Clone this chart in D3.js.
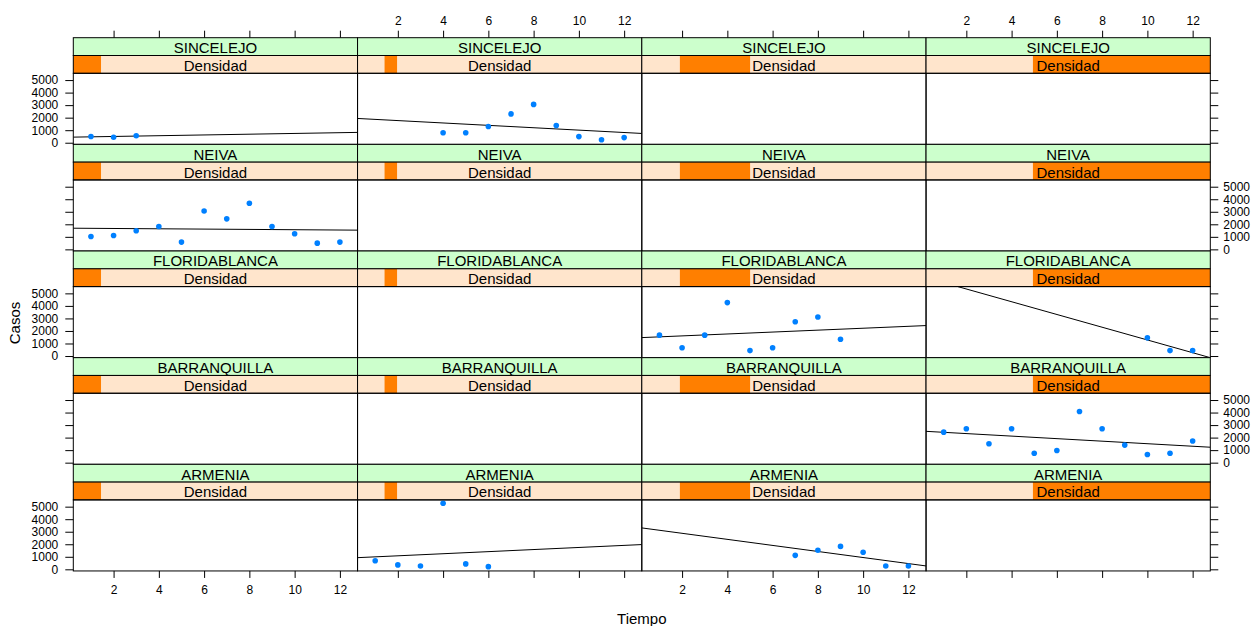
<!DOCTYPE html>
<html>
<head>
<meta charset="utf-8">
<script src="https://cdnjs.cloudflare.com/ajax/libs/d3/7.8.5/d3.min.js"></script>
<style>
    body { margin: 0; background: #fff; }
    text { font-family: Arial, "Liberation Sans", sans-serif; fill: #000; }
</style>
</head>
<body>
<svg id="chart" width="1253" height="626"></svg>
<script>
// filas de arriba hacia abajo
const ciudades = ["SINCELEJO", "NEIVA", "FLORIDABLANCA", "BARRANQUILLA", "ARMENIA"];
const meses = [1, 2, 3, 4, 5, 6, 7, 8, 9, 10, 11, 12];

const casosSincelejo = [500, 440, 560, 790, 790, 1300, 2300, 3060, 1380, 490, 240, 410];
const nivelSincelejo = [0, 0, 0, 1, 1, 1, 1, 1, 1, 1, 1, 1];
const casosNeiva = [1026, 1109, 1490, 1821, 579, 3063, 2434, 3675, 1821, 1242, 497, 579];
const nivelNeiva = [0, 0, 0, 0, 0, 0, 0, 0, 0, 0, 0, 0];
const casosFloridablanca = [1664, 656, 1664, 4262, 434, 656, 2730, 3115, 1336, 1451, 434, 434];
const nivelFloridablanca = [2, 2, 2, 2, 2, 2, 2, 2, 2, 3, 3, 3];
const casosBarranquilla = [2435, 2703, 1510, 2703, 755, 974, 4083, 2703, 1404, 649, 755, 1729];
const nivelBarranquilla = [3, 3, 3, 3, 3, 3, 3, 3, 3, 3, 3, 3];
const casosArmenia = [680, 352, 270, 5270, 434, 213, 1115, 1525, 1828, 1361, 270, 270];
const nivelArmenia = [1, 1, 1, 1, 1, 1, 2, 2, 2, 2, 2, 2];

// intervalos del shingle Densidad (escala relativa 0-100)
const intervalosDensidad = [[0, 9.75], [9.5, 13.9], [13.4, 38.1], [37.6, 100]];
const rangoDensidad = [0, 100];

const ticksTiempo = [2, 4, 6, 8, 10, 12];
const ticksCasos = [0, 1000, 2000, 3000, 4000, 5000];
const limitesTiempo = [0.22, 12.78];
const limitesCasos = [-130, 5540];

const series = {
    SINCELEJO: [casosSincelejo, nivelSincelejo],
    NEIVA: [casosNeiva, nivelNeiva],
    FLORIDABLANCA: [casosFloridablanca, nivelFloridablanca],
    BARRANQUILLA: [casosBarranquilla, nivelBarranquilla],
    ARMENIA: [casosArmenia, nivelArmenia]
};

const izq = 73.3, arriba = 37.7;
const anchoPanel = 284.25, altoFila = 106.65, altoStrip = 17.8;
const altoPanel = altoFila - 2 * altoStrip;
const nCol = intervalosDensidad.length, nFil = ciudades.length;

const x = d3.scaleLinear().domain(limitesTiempo).range([0, anchoPanel]);
const y = d3.scaleLinear().domain(limitesCasos).range([altoPanel, 0]);
const xDens = d3.scaleLinear().domain(rangoDensidad).range([0, anchoPanel]);

const svg = d3.select("#chart");
const defs = svg.append("defs");
defs.append("clipPath").attr("id", "recorte")
    .append("rect").attr("width", anchoPanel).attr("height", altoPanel);

function ajuste(pts) {
    if (pts.length < 2) return null;
    const mx = d3.mean(pts, d => d[0]), my = d3.mean(pts, d => d[1]);
    const sxx = d3.sum(pts, d => (d[0] - mx) * (d[0] - mx));
    const sxy = d3.sum(pts, d => (d[0] - mx) * (d[1] - my));
    const b = sxy / sxx;
    return {a: my - b * mx, b: b};
}

ciudades.forEach(function(ciudad, r) {
    const [casos, nivel] = series[ciudad];
    intervalosDensidad.forEach(function(intervalo, c) {
        const x0 = izq + c * anchoPanel;
        const y0 = arriba + r * altoFila;
        const g = svg.append("g").attr("transform", `translate(${x0},${y0})`);

        // strip de ciudad
        g.append("rect").attr("width", anchoPanel).attr("height", altoStrip)
            .attr("fill", "#ccffcc").attr("stroke", "#000").attr("stroke-width", 1);
        g.append("text").text(ciudad)
            .attr("x", anchoPanel / 2).attr("y", altoStrip / 2 + 1)
            .attr("text-anchor", "middle").attr("dominant-baseline", "central")
            .style("font-size", "15px");

        // strip de densidad
        const gs = g.append("g").attr("transform", `translate(0,${altoStrip})`);
        gs.append("rect").attr("width", anchoPanel).attr("height", altoStrip)
            .attr("fill", "#ffe5cc");
        gs.append("rect")
            .attr("x", xDens(intervalo[0]))
            .attr("width", xDens(intervalo[1]) - xDens(intervalo[0]))
            .attr("height", altoStrip).attr("fill", "#ff7f00");
        gs.append("rect").attr("width", anchoPanel).attr("height", altoStrip)
            .attr("fill", "none").attr("stroke", "#000").attr("stroke-width", 1);
        gs.append("text").text("Densidad")
            .attr("x", anchoPanel / 2).attr("y", altoStrip / 2 + 1)
            .attr("text-anchor", "middle").attr("dominant-baseline", "central")
            .style("font-size", "15px");

        // panel
        const gp = g.append("g").attr("transform", `translate(0,${2 * altoStrip})`);
        const pts = meses.map((m, i) => [m, casos[i], nivel[i]])
            .filter(d => d[2] === c);
        const cont = gp.append("g").attr("clip-path", "url(#recorte)");
        const f = ajuste(pts);
        if (f) {
            cont.append("path")
                .datum(limitesTiempo.map(t => [t, f.a + f.b * t]))
                .attr("d", d3.line().x(d => x(d[0])).y(d => y(d[1])))
                .attr("fill", "none").attr("stroke", "#000").attr("stroke-width", 1);
        }
        cont.selectAll("circle").data(pts).join("circle")
            .attr("cx", d => x(d[0])).attr("cy", d => y(d[1]))
            .attr("r", 2.8).attr("fill", "#0080ff");
        gp.append("rect").attr("width", anchoPanel).attr("height", altoPanel)
            .attr("fill", "none").attr("stroke", "#000").attr("stroke-width", 1);

        // ejes alternados
        function estilo(ax) {
            ax.select(".domain").remove();
            ax.selectAll("line").attr("stroke", "#000");
            ax.selectAll("text").style("font-size", "12px").attr("fill", "#000");
        }
        if (c === 0) {
            const conEtiq = r % 2 === 0;
            const ax = gp.append("g").call(d3.axisLeft(y).tickValues(ticksCasos)
                .tickSize(8).tickPadding(7).tickFormat(conEtiq ? d3.format("d") : ""));
            estilo(ax);
        }
        if (c === nCol - 1) {
            const conEtiq = r % 2 === 1;
            const ax = gp.append("g").attr("transform", `translate(${anchoPanel},0)`)
                .call(d3.axisRight(y).tickValues(ticksCasos)
                .tickSize(8).tickPadding(5).tickFormat(conEtiq ? d3.format("d") : ""));
            estilo(ax);
        }
        if (r === 0) {
            const conEtiq = c % 2 === 1;
            const ax = g.append("g").call(d3.axisTop(x).tickValues(ticksTiempo)
                .tickSize(7).tickPadding(6).tickFormat(conEtiq ? d3.format("d") : ""));
            estilo(ax);
        }
        if (r === nFil - 1) {
            const conEtiq = c % 2 === 0;
            const ax = gp.append("g").attr("transform", `translate(0,${altoPanel})`)
                .call(d3.axisBottom(x).tickValues(ticksTiempo)
                .tickSize(7).tickPadding(8).tickFormat(conEtiq ? d3.format("d") : ""));
            estilo(ax);
        }
    });
});

svg.append("text").text("Tiempo")
    .attr("x", izq + nCol * anchoPanel / 2).attr("y", 618)
    .attr("text-anchor", "middle").attr("dominant-baseline", "central")
    .style("font-size", "15px");
svg.append("text").text("Casos")
    .attr("transform", "translate(14,323) rotate(-90)")
    .attr("text-anchor", "middle").attr("dominant-baseline", "central")
    .style("font-size", "15px");
</script>
</body>
</html>
